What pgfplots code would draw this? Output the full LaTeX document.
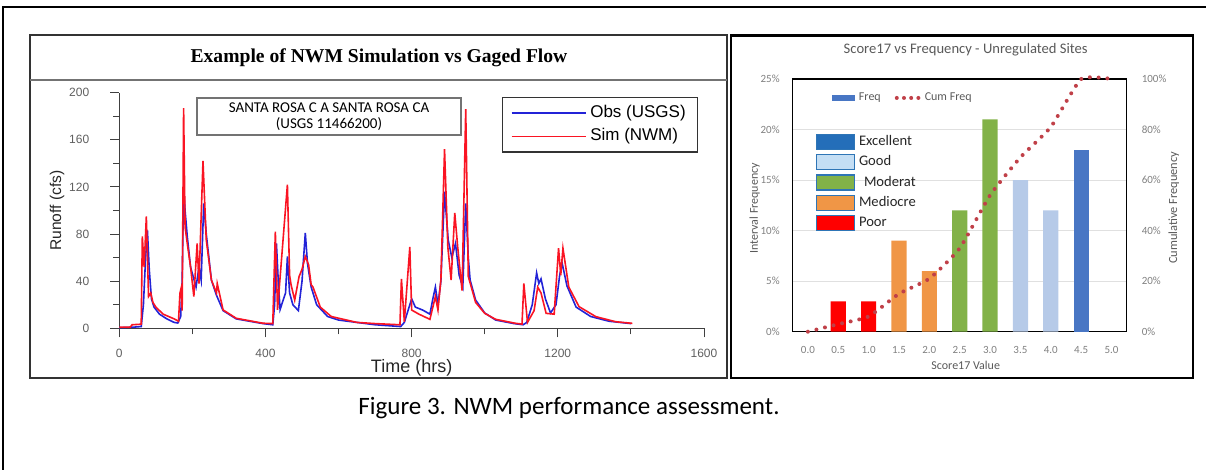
\documentclass[border=0pt]{standalone}
\usepackage{fontspec}
\setmainfont{Liberation Sans}
\newfontfamily\calib{Carlito}
\newfontfamily\tnr{Liberation Serif}
\usepackage{pgfplots}
\pgfplotsset{compat=1.18}

\definecolor{obsblue}{RGB}{35,35,215}
\definecolor{simred}{RGB}{250,20,35}
\definecolor{axgray}{RGB}{64,64,64}
\definecolor{lblgray}{RGB}{95,95,95}
\definecolor{ttlgray}{RGB}{89,89,89}
\definecolor{tkgray}{RGB}{128,128,128}
\definecolor{cexc}{RGB}{36,110,185}
\definecolor{cbar}{RGB}{72,118,196}
\definecolor{cgood}{RGB}{182,202,232}
\definecolor{cgoodL}{RGB}{196,222,244}
\definecolor{cmod}{RGB}{130,178,72}
\definecolor{cmed}{RGB}{240,150,70}
\definecolor{cpoor}{RGB}{255,0,0}
\definecolor{cumred}{RGB}{192,64,72}
\definecolor{lgborder}{RGB}{46,117,182}

\begin{document}
\begin{tikzpicture}
\begin{scope}[x=0.5pt,y=-0.5pt]
  \path[use as bounding box] (0,0) rectangle (1206,470);
  \draw[line width=1.2pt] (3,470) -- (3,7) -- (1206,7);
  \draw[line width=0.9pt, black!80] (30,35) rectangle (727,378);
  \draw[line width=1pt, black!55] (30,80) -- (727,80);
  \draw[line width=0.9pt] (731,35) rectangle (1193,378);
  \draw[line width=1.6pt] (731,35.5) -- (1193,35.5);
  \coordinate (LA) at (119.3,328.3);
  \coordinate (RA) at (792.7,331.7);
\end{scope}

% hydrograph
\begin{axis}[
    at={(LA)}, anchor=south west, scale only axis,
    width=292.35pt, height=117.8pt,
    xmin=0, xmax=1600, ymin=0, ymax=200,
    axis lines*=left,
    axis line style={axgray, line width=0.6pt},
    xtick={0,400,...,1600}, ytick={0,40,...,200},
    minor x tick num=1, minor y tick num=1,
    tick align=outside, major tick length=4.5pt, minor tick length=3pt,
    tick style={axgray, line width=0.5pt},
    /pgf/number format/1000 sep={},
    /pgf/number format/assume math mode=true,
    tick label style={font=\fontsize{6}{7}\selectfont, text=lblgray},
    xticklabel style={yshift=-2.5pt},
    yticklabel style={xshift=-7pt},
    xlabel={Time (hrs)}, ylabel={Runoff (cfs)},
    xlabel style={at={(rel axis cs:0.5,-0.168)}, anchor=center, font=\fontsize{9}{10}\selectfont, text=black!85},
    ylabel style={at={(rel axis cs:-0.1066,0.5)}, anchor=center, font=\fontsize{7.8}{9}\selectfont, text=black!85},
    legend style={at={(0.655,0.983)}, anchor=north west, draw=black!80, line width=0.6pt,
      font=\fontsize{8.5}{10}\selectfont, inner xsep=4pt, inner ysep=2pt, cells={anchor=west}},
    legend image code/.code={\draw[#1, line width=0.7pt] (0pt,0pt) -- (37pt,0pt);},
]
\addplot[obsblue, line width=0.8pt] coordinates {
(0,0.5) (40,1) (60,1.5) (66,20) (72,60) (77,83) (82,50) (88,25) (95,18) (110,12)
(130,8) (150,5) (160,4.5) (168,10) (172,40) (176,120) (180,100) (186,78) (195,52)
(210,35) (218,52) (224,41) (231,106) (238,80) (252,41) (266,28) (284,15) (320,8)
(393,4) (420,3) (425,20) (430,72) (435,40) (440,16) (455,30) (460,61) (466,30)
(475,20) (490,15) (500,40) (509,81) (515,55) (525,35) (540,20) (570,10) (600,7)
(700,3) (770,1.5) (780,5) (800,25) (810,18) (830,15.5) (850,12) (858,25) (865,35)
(872,20) (880,40) (890,116) (900,75) (910,60) (920,72) (930,45) (940,35) (948,106)
(955,60) (960,41) (975,24) (1000,13) (1030,7) (1080,4) (1105,3) (1115,5) (1130,20)
(1142,47) (1148,38) (1154,42) (1166,25) (1180,13) (1195,20) (1205,45) (1212,55)
(1225,36) (1250,18) (1290,10) (1340,6) (1400,4)
};
\addlegendentry{Obs (USGS)}
\addplot[simred, line width=0.8pt] coordinates {
(0,1) (30,1) (35,3) (60,3.5) (63,78) (68,52) (74,95) (80,27) (86,30) (92,22)
(100,18) (120,12) (150,8) (162,6) (166,30) (170,35) (172,15) (176,187) (180,86)
(186,72) (195,52) (204,27) (213,72) (218,38) (229,142) (238,75) (252,41) (266,30)
(268,38) (284,15.6) (320,8.5) (393,4.3) (420,4) (427,82) (433,15.6) (460,122)
(466,45) (470,37) (480,24) (492,44) (500,50) (509,61) (518,54) (525,37) (530,35)
(550,18) (580,10) (650,5) (700,4) (768,3) (772,42) (780,5.6) (795,69) (800,15.5)
(820,12) (850,7.6) (865,27) (872,15.5) (880,41) (890,152) (899,69) (908,41)
(918,98) (926,69) (938,32) (948,186) (955,44) (975,22) (1000,12.7) (1030,7.6)
(1085,4.2) (1102,3.6) (1107,38) (1117,5) (1135,15) (1145,35) (1154,30) (1168,12.7)
(1190,12) (1202,68) (1208,45) (1214,68) (1230,35) (1258,18.4) (1304,9.9)
(1358,5.6) (1404,4.2)
};
\addlegendentry{Sim (NWM)}
\end{axis}

% score bars
\begin{axis}[
    at={(RA)}, anchor=south west, scale only axis,
    width=167pt, height=126.35pt,
    xmin=-0.5, xmax=10.5, ymin=0, ymax=25,
    xtick={0,...,10},
    xticklabels={0.0,0.5,1.0,1.5,2.0,2.5,3.0,3.5,4.0,4.5,5.0},
    ytick={0,5,...,25},
    yticklabel={\pgfmathprintnumber{\tick}\%},
    major tick length=0pt,
    ymajorgrids, grid style={black!12, line width=0.4pt},
    axis line style={black, line width=0.7pt},
    /pgf/number format/assume math mode=true,
    tick label style={font=\calib\fontsize{5.5}{6}\selectfont, text=tkgray},
    xticklabel style={yshift=-4pt},
    yticklabel style={xshift=-3pt},
    xlabel={Score17 Value}, ylabel={Interval Frequency},
    xlabel style={at={(rel axis cs:0.518,-0.135)}, anchor=center, font=\calib\fontsize{6}{7}\selectfont, text=ttlgray},
    ylabel style={at={(rel axis cs:-0.114,0.488)}, anchor=center, font=\calib\fontsize{6}{7}\selectfont, text=ttlgray},
    title={Score17 vs Frequency - Unregulated Sites},
    title style={at={(rel axis cs:0.518,1.067)}, anchor=center, font=\calib\fontsize{7.3}{8}\selectfont, text=ttlgray},
    legend style={at={(0.05,0.8)}, anchor=north west, draw=none, fill=none,
      font=\calib\fontsize{7.3}{8}\selectfont, text=black!85, row sep=2pt,
      nodes={inner ysep=0.6pt}, cells={anchor=west}},
]
\addplot[ybar, bar width=0.5, fill=cpoor, draw=none, forget plot] coordinates {(1,3) (2,3)};
\addplot[ybar, bar width=0.5, fill=cmed, draw=none, forget plot] coordinates {(3,9) (4,6)};
\addplot[ybar, bar width=0.5, fill=cmod, draw=none, forget plot] coordinates {(5,12) (6,21)};
\addplot[ybar, bar width=0.5, fill=cgood, draw=none, forget plot] coordinates {(7,15) (8,12)};
\addplot[ybar, bar width=0.5, fill=cbar, draw=none, forget plot] coordinates {(9,18)};
\addlegendimage{legend image code/.code={\draw[draw=lgborder, fill=cexc, line width=0.6pt] (0pt,-3.75pt) rectangle (19pt,3.75pt);}}
\addlegendentry{Excellent}
\addlegendimage{legend image code/.code={\draw[draw=lgborder, fill=cgoodL, line width=0.6pt] (0pt,-3.75pt) rectangle (19pt,3.75pt);}}
\addlegendentry{Good}
\addlegendimage{legend image code/.code={\draw[draw=lgborder, fill=cmod, line width=0.6pt] (0pt,-3.75pt) rectangle (19pt,3.75pt);}}
\addlegendentry{\hspace{2.5pt}Moderat}
\addlegendimage{legend image code/.code={\draw[draw=lgborder, fill=cmed, line width=0.6pt] (0pt,-3.75pt) rectangle (19pt,3.75pt);}}
\addlegendentry{Mediocre}
\addlegendimage{legend image code/.code={\draw[draw=lgborder, fill=cpoor, line width=0.6pt] (0pt,-3.75pt) rectangle (19pt,3.75pt);}}
\addlegendentry{Poor}
\end{axis}

% cumulative frequency
\begin{axis}[
    at={(RA)}, anchor=south west, scale only axis,
    width=167pt, height=126.35pt,
    xmin=-0.5, xmax=10.5, ymin=0, ymax=100,
    axis y line*=right, axis x line=none,
    axis line style={black, line width=0.7pt},
    ytick={0,20,...,100},
    yticklabel={\pgfmathprintnumber{\tick}\%},
    major tick length=0pt,
    /pgf/number format/assume math mode=true,
    tick label style={font=\calib\fontsize{5.5}{6}\selectfont, text=tkgray},
    yticklabel style={xshift=4pt},
    ylabel={Cumulative Frequency},
    ylabel style={at={(rel axis cs:1.141,0.49)}, anchor=center, font=\calib\fontsize{6.2}{7}\selectfont, text=ttlgray},
    clip=false,
    legend columns=2,
    legend style={at={(0.099,0.925)}, anchor=west, draw=none, fill=none,
      font=\calib\fontsize{6}{7}\selectfont, text=ttlgray,
      /tikz/every even column/.append style={column sep=5pt}},
]
\addlegendimage{legend image code/.code={\fill[cbar] (0pt,-1.4pt) rectangle (11pt,1.4pt);}}
\addlegendentry{Freq}
\addplot[smooth, tension=0.3, cumred, line width=2pt, line cap=round, dash pattern=on 0pt off 4.4pt,
  legend image code/.code={\draw[cumred, line width=2pt, line cap=round, dash pattern=on 0pt off 3.6pt] (1pt,0pt) -- (12pt,0pt);}]
  coordinates {(0,0) (1,3) (2,6) (3,15) (4,21) (5,33) (6,54) (7,69) (8,81) (9,100) (10,100)};
\addlegendentry{Cum Freq}
\end{axis}

\begin{scope}[x=0.5pt,y=-0.5pt]
  \node[font=\tnr\bfseries\fontsize{9.8}{11}\selectfont] at (379,58) {Example of NWM Simulation vs Gaged Flow};
  \node[draw=black!55, fill=white, line width=0.6pt, minimum width=132pt, minimum height=18.5pt,
        align=center, inner sep=0pt, font=\calib\fontsize{7.5}{7.8}\selectfont] at (329,116.5)
        {SANTA ROSA C A SANTA ROSA CA\\(USGS 11466200)};
  \node[font=\calib\fontsize{12.5}{14}\selectfont] at (569,408) {Figure 3. NWM performance assessment.};
\end{scope}
\end{tikzpicture}
\end{document}
